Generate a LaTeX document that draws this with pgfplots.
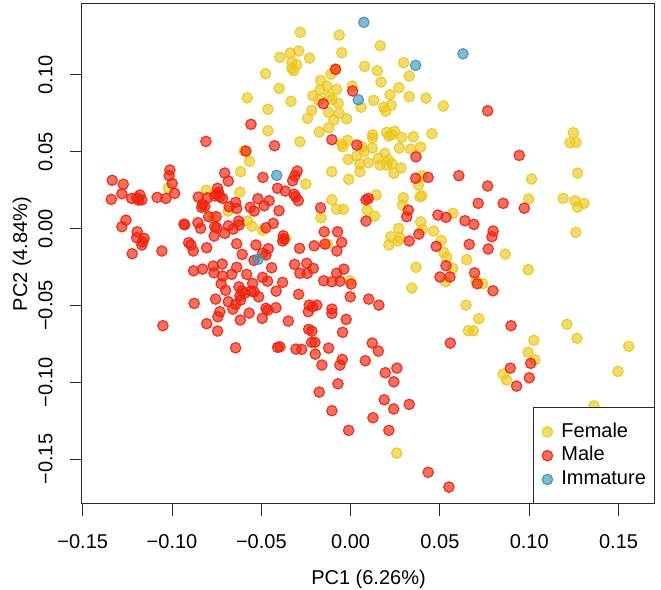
\documentclass[border=0pt]{standalone}
\usepackage{fontspec}
\setmainfont{Liberation Sans}
\usepackage{pgfplots}
\pgfplotsset{compat=1.18}
\usetikzlibrary{calc}
\definecolor{fem}{RGB}{235,200,30}
\definecolor{mal}{RGB}{238,35,15}
\definecolor{imm}{RGB}{60,150,185}
\definecolor{axc}{RGB}{40,40,40}
\begin{document}
\fontsize{10}{12}\selectfont
\begin{tikzpicture}
\begin{axis}[
 scale only axis, width=286.5pt, height=250pt,
 xmin=-0.1504, xmax=0.1704, ymin=-0.1792, ymax=0.1461,
 axis line style={line width=0.5pt, axc},
 every tick/.style={line width=0.5pt, axc},
 tick align=outside, major tick length=6pt,
 xtick pos=left, ytick pos=left,
 xtick={-0.15,-0.1,-0.05,0,0.05,0.1,0.15},
 xticklabels={−0.15,−0.10,−0.05,0.00,0.05,0.10,0.15},
 ytick={-0.15,-0.1,-0.05,0,0.05,0.1},
 yticklabels={−0.15,−0.10,−0.05,0.00,0.05,0.10},
 ticklabel style={font=\fontsize{10}{12}\selectfont},
 xticklabel style={anchor=north, inner sep=0pt},
 yticklabel style={rotate=90, anchor=south, inner sep=0pt},
 xticklabel shift=9pt, yticklabel shift=8.5pt,
 label style={font=\fontsize{10}{12}\selectfont},
 xlabel={PC1 (6.26\%)}, ylabel={PC2 (4.84\%)},
 xlabel style={at={(axis description cs:0.5,-0.15)}, anchor=center},
 ylabel style={at={(axis description cs:-0.105,0.5)}, anchor=center},
 legend style={at={(1,0)}, anchor=south east, draw=axc, line width=0.5pt, fill=white,
   inner xsep=4.3pt, inner ysep=7.4pt, row sep=2.7pt, font=\fontsize{10}{12}\selectfont,
   nodes={inner sep=0pt, text height=7.2pt, text depth=2pt},
   /tikz/every odd column/.append style={column sep=4.4pt}},
 legend cell align=left,
 legend image code/.code={\draw[#1, mark repeat=2, mark phase=2] plot coordinates {(0pt,0pt)(5pt,0pt)(10pt,0pt)};},
]
\addplot[only marks, mark=*, mark size=2.6pt, mark options={draw=fem, fill=fem, fill opacity=0.65, draw opacity=0.9, line width=0.6pt}] coordinates {
(-0.0396,0.1114) (-0.0476,0.1007) (-0.0400,0.0912) (-0.0579,0.0851) (-0.0463,0.0776) (-0.0463,0.0636)
(-0.0596,0.0506) (-0.0566,0.0437) (-0.0282,0.1277) (-0.0064,0.1259) (0.0166,0.1189) (-0.0291,0.1155)
(-0.0338,0.1142) (-0.0230,0.1109) (-0.0050,0.1144) (-0.0329,0.1083) (-0.0302,0.1066) (-0.0329,0.1042)
(-0.0318,0.1027) (0.0078,0.1055) (0.0297,0.1079) (0.0149,0.1027) (0.0328,0.0992) (-0.0086,0.1038)
(-0.0109,0.1005) (-0.0168,0.0964) (0.0170,0.0953) (-0.0172,0.0901) (-0.0133,0.0927) (-0.0078,0.0906)
(0.0009,0.0927) (0.0270,0.0916) (0.0220,0.0871) (0.0328,0.0858) (0.0422,0.0849) (0.0519,0.0797)
(0.0129,0.0834) (-0.0211,0.0864) (-0.0120,0.0858) (-0.0103,0.0841) (-0.0334,0.0828) (-0.0179,0.0836)
(-0.0069,0.0815) (0.0058,0.0789) (0.0185,0.0789) (0.0196,0.0764) (0.0227,0.0802) (-0.0218,0.0769)
(-0.0123,0.0756) (-0.0064,0.0750) (-0.0241,0.0717) (-0.0094,0.0706) (-0.0022,0.0714) (-0.0123,0.0656)
(-0.0176,0.0628) (0.0202,0.0626) (0.0230,0.0610) (0.0246,0.0632) (0.0214,0.0602) (0.0123,0.0610)
(0.0123,0.0591) (0.0286,0.0593) (0.0351,0.0597) (0.0455,0.0617) (-0.0284,0.0565) (-0.0017,0.0574)
(-0.0049,0.0550) (-0.0045,0.0532) (0.0063,0.0532) (0.0076,0.0500) (0.0121,0.0524) (0.0272,0.0524)
(0.0336,0.0517) (0.0392,0.0530) (-0.0013,0.0450) (0.0034,0.0472) (0.0052,0.0420) (0.0099,0.0428)
(0.0155,0.0457) (0.0192,0.0489) (0.0211,0.0446) (0.0164,0.0413) (0.0202,0.0413) (0.0230,0.0424)
(0.1247,0.0623) (0.1228,0.0558) (0.1262,0.0561) (-0.1021,0.0262) (-0.0809,0.0249) (-0.0616,0.0370)
(-0.0620,0.0237) (-0.0686,0.0114) (-0.0769,0.0070) (-0.0577,0.0049) (-0.0553,0.0016) (-0.0493,-0.0010)
(-0.0250,0.0290) (-0.0106,0.0370) (-0.0011,0.0320) (0.0052,0.0370) (0.0242,0.0359) (0.0282,0.0394)
(0.0401,0.0344) (0.0379,0.0283) (0.0388,0.0207) (0.0398,0.0213) (0.0295,0.0200) (0.0291,0.0153)
(0.0392,0.0044) (0.0401,-0.0005) (0.0269,0.0001) (0.0224,-0.0053) (0.0276,-0.0060) (0.0265,-0.0081)
(0.0214,-0.0107) (0.0465,-0.0016) (0.0573,0.0099) (0.0507,-0.0077) (0.0521,-0.0155) (0.0538,-0.0187)
(0.0571,-0.0259) (0.0532,-0.0346) (0.0650,-0.0203) (0.0366,-0.0252) (0.0342,-0.0387) (0.0646,-0.0498)
(0.0659,-0.0665) (-0.0105,0.0187) (-0.0078,0.0125) (-0.0041,0.0125) (-0.0166,0.0070) (0.0143,0.0218)
(0.0093,0.0120) (0.0134,0.0081) (-0.0364,-0.0068) (-0.0131,-0.0101) (-0.0004,-0.0340) (0.1013,0.0322)
(0.1271,0.0361) (0.0997,0.0192) (0.1190,0.0196) (0.1256,0.0181) (0.1306,0.0164) (0.1271,0.0140)
(0.1261,-0.0025) (0.0866,-0.0166) (0.0994,-0.0268) (0.0702,-0.0340) (0.0739,-0.0359) (0.0718,-0.0587)
(0.0686,-0.0665) (0.1211,-0.0623) (0.0258,-0.1461) (0.1026,-0.0727) (0.1267,-0.0714) (0.1557,-0.0766)
(0.0994,-0.0805) (0.1032,-0.0854) (0.0854,-0.0947) (0.0873,-0.0986) (0.1497,-0.0929) (0.1362,-0.1153)
};
\addlegendentry{Female}
\addplot[only marks, mark=*, mark size=2.6pt, mark options={draw=mal, fill=mal, fill opacity=0.65, draw opacity=0.9, line width=0.6pt}] coordinates {
(-0.0558,0.0678) (-0.0810,0.0567) (-0.0426,0.0539) (-0.0586,0.0504) (-0.0084,0.1036) (0.0011,0.0895)
(-0.0153,0.0812) (-0.0105,0.0578) (0.0035,0.0543) (0.0366,0.0467) (0.0767,0.0766) (0.0944,0.0476)
(-0.1012,0.0381) (-0.1016,0.0344) (-0.0999,0.0294) (-0.0985,0.0229) (-0.1034,0.0196) (-0.1083,0.0203)
(-0.1335,0.0314) (-0.1273,0.0288) (-0.1281,0.0226) (-0.1340,0.0190) (-0.1226,0.0196) (-0.1198,0.0200)
(-0.1180,0.0218) (-0.1169,0.0187) (-0.1187,0.0185) (-0.1258,0.0055) (-0.1281,0.0012) (-0.1195,-0.0021)
(-0.1198,-0.0060) (-0.1156,-0.0064) (-0.1165,-0.0086) (-0.1169,-0.0107) (-0.1223,-0.0164) (-0.1057,-0.0146)
(-0.0745,0.0262) (-0.0739,0.0236) (-0.0732,0.0207) (-0.0717,0.0196) (-0.0750,0.0223) (-0.0853,0.0205)
(-0.0801,0.0200) (-0.0760,0.0213) (-0.0829,0.0157) (-0.0816,0.0144) (-0.0834,0.0138) (-0.0705,0.0361)
(-0.0685,0.0309) (-0.0491,0.0333) (-0.0409,0.0262) (-0.0519,0.0194) (-0.0456,0.0181) (-0.0484,0.0148)
(-0.0562,0.0138) (-0.0540,0.0114) (-0.0644,0.0170) (-0.0638,0.0131) (-0.0680,0.0142) (-0.0795,0.0077)
(-0.0753,0.0077) (-0.0933,0.0029) (-0.0929,0.0025) (-0.0855,0.0038) (-0.0840,0.0001) (-0.0761,0.0012)
(-0.0750,0.0005) (-0.0764,-0.0049) (-0.0704,-0.0031) (-0.0685,0.0018) (-0.0657,-0.0003) (-0.0627,0.0049)
(-0.0624,0.0023) (-0.0474,0.0005) (-0.0433,0.0034) (-0.0638,-0.0099) (-0.0607,-0.0168) (-0.0530,-0.0107)
(-0.0461,-0.0131) (-0.0493,-0.0161) (-0.0474,-0.0172) (-0.0541,-0.0207) (-0.0442,-0.0255) (-0.0907,-0.0092)
(-0.0894,-0.0107) (-0.0881,-0.0146) (-0.0806,-0.0125) (-0.0879,-0.0275) (-0.0829,-0.0264) (-0.0769,-0.0244)
(-0.0765,-0.0288) (-0.0719,-0.0231) (-0.0717,-0.0309) (-0.0638,-0.0252) (-0.0666,-0.0298) (-0.0582,-0.0298)
(-0.0725,-0.0359) (-0.0700,-0.0402) (-0.0625,-0.0379) (-0.0607,-0.0407) (-0.0620,-0.0437) (-0.0594,-0.0422)
(-0.0616,-0.0465) (-0.0549,-0.0357) (-0.0541,-0.0411) (-0.0557,-0.0407) (-0.0515,-0.0444) (-0.0493,-0.0318)
(-0.0465,-0.0342) (-0.0417,-0.0407) (-0.0756,-0.0459) (-0.0685,-0.0476) (-0.0644,-0.0493) (-0.0659,-0.0524)
(-0.0568,-0.0550) (-0.0474,-0.0519) (-0.0463,-0.0530) (-0.0418,-0.0515) (-0.0876,-0.0487) (-0.0732,-0.0541)
(-0.0743,-0.0574) (-0.0618,-0.0595) (-0.0495,-0.0584) (-0.0806,-0.0619) (-0.0745,-0.0667) (-0.1051,-0.0632)
(-0.0299,0.0374) (-0.0312,0.0344) (-0.0325,0.0311) (-0.0366,0.0244) (-0.0317,0.0223) (-0.0308,0.0207)
(-0.0293,0.0181) (0.0364,0.0327) (0.0434,0.0333) (0.0606,0.0344) (0.0323,0.0120) (0.0314,0.0077)
(0.0382,-0.0036) (0.0328,-0.0081) (0.0489,0.0088) (0.0534,0.0073) (0.0640,0.0051) (0.0479,-0.0116)
(0.0534,-0.0242) (0.0500,-0.0315) (0.0556,-0.0315) (0.0664,-0.0103) (-0.0168,0.0135) (0.0086,0.0187)
(0.0099,0.0196) (0.0086,0.0049) (-0.0401,0.0116) (-0.0377,-0.0047) (-0.0381,-0.0081) (-0.0373,-0.0068)
(-0.0286,-0.0129) (-0.0204,-0.0112) (-0.0148,-0.0021) (-0.0073,-0.0021) (-0.0144,-0.0101) (-0.0050,-0.0090)
(-0.0077,-0.0146) (-0.0314,-0.0233) (-0.0246,-0.0226) (-0.0284,-0.0291) (-0.0243,-0.0291) (-0.0209,-0.0259)
(-0.0078,-0.0291) (-0.0038,-0.0264) (-0.0151,-0.0340) (-0.0105,-0.0346) (-0.0060,-0.0342) (0.0003,-0.0361)
(-0.0381,-0.0350) (-0.0291,-0.0428) (-0.0002,-0.0444) (0.0101,-0.0459) (0.0158,-0.0498) (-0.0232,-0.0498)
(-0.0213,-0.0509) (-0.0190,-0.0498) (-0.0237,-0.0541) (-0.0105,-0.0524) (-0.0105,-0.0552) (-0.0349,-0.0602)
(-0.0025,-0.0591) (-0.0235,-0.0656) (-0.0217,-0.0667) (-0.0045,-0.0675) (0.0767,0.0277) (0.0714,0.0164)
(0.0854,0.0164) (0.0972,0.0133) (0.0690,0.0027) (0.0798,-0.0016) (0.0791,-0.0053) (0.0770,-0.0133)
(0.0694,-0.0288) (0.0709,-0.0359) (0.0797,-0.0405) (0.0898,-0.0632) (-0.0644,-0.0776) (-0.0409,-0.0773)
(-0.0396,-0.0769) (-0.0306,-0.0784) (-0.0274,-0.0786) (-0.0218,-0.0740) (-0.0200,-0.0740) (-0.0198,-0.0817)
(-0.0123,-0.0778) (-0.0047,-0.0851) (-0.0060,-0.0888) (-0.0161,-0.0888) (0.0121,-0.0745) (0.0155,-0.0797)
(0.0082,-0.0860) (0.0558,-0.0745) (0.0194,-0.0938) (0.0259,-0.0908) (0.0242,-0.0997) (-0.0071,-0.1010)
(-0.0176,-0.1064) (0.0188,-0.1114) (0.0241,-0.1174) (0.0328,-0.1144) (-0.0105,-0.1185) (0.0125,-0.1231)
(-0.0011,-0.1313) (0.0214,-0.1313) (0.0434,-0.1586) (0.0550,-0.1682) (0.1008,-0.0877) (0.0894,-0.0908)
(0.1000,-0.0971) (0.0929,-0.1025)
};
\addlegendentry{Male}
\addplot[only marks, mark=*, mark size=2.6pt, mark options={draw=imm, fill=imm, fill opacity=0.65, draw opacity=0.9, line width=0.6pt}] coordinates {
(0.0074,0.1342) (0.0629,0.1137) (0.0364,0.1062) (0.0043,0.0838) (-0.0414,0.0346) (-0.0519,-0.0200)
};
\addlegendentry{Immature}
\end{axis}
\pgfresetboundingbox
\path[use as bounding box] ($(current axis.south west)+(-41pt,-43pt)$) rectangle ($(current axis.north east)+(3pt,2pt)$);
\end{tikzpicture}
\end{document}
